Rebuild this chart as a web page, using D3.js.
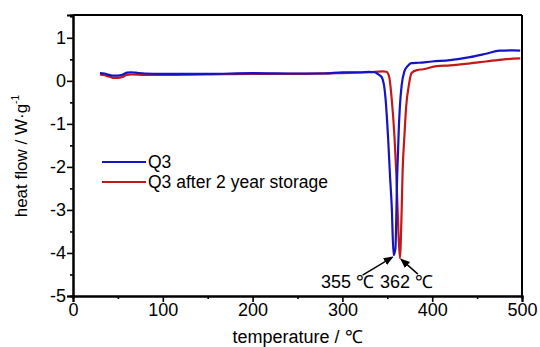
<!DOCTYPE html>
<html>
<head>
<meta charset="utf-8">
<script src="https://cdn.jsdelivr.net/npm/d3@7"></script>
<style>
  body { margin: 0; background: #fff; }
  text { font-family: "Liberation Sans", Arial, sans-serif; fill: #000; }
</style>
</head>
<body>
<div id="chart"></div>
<script>
// DSC curves: [temperature, heat flow]
const q3 = [
  [30, 0.18], [35, 0.17], [40, 0.14], [45, 0.12], [50, 0.12], [55, 0.14], [60, 0.19],
  [65, 0.20], [70, 0.19], [80, 0.17], [100, 0.16], [150, 0.16], [200, 0.18], [250, 0.17],
  [280, 0.17], [300, 0.20], [320, 0.20], [330, 0.21], [336, 0.20], [340, 0.15], [344, 0.08],
  [348, -0.40], [351, -1.37], [353, -2.20], [355, -2.95], [357, -4.05], [359, -3.90],
  [361, -2.20], [363, -1.00], [364, -0.60], [366, -0.10], [369, 0.22], [373, 0.35],
  [377, 0.41], [385, 0.42], [400, 0.45], [420, 0.48], [442, 0.55], [460, 0.63],
  [475, 0.70], [490, 0.71], [498, 0.70]
];
const q3Stored = [
  [30, 0.15], [35, 0.13], [40, 0.10], [45, 0.07], [50, 0.07], [55, 0.09], [60, 0.14],
  [65, 0.15], [80, 0.14], [100, 0.14], [150, 0.15], [200, 0.16], [250, 0.16], [300, 0.18],
  [330, 0.20], [345, 0.22], [349, 0.21], [352, 0.10], [355, -0.44], [358, -1.30],
  [360, -2.14], [362, -3.30], [364, -4.12], [366, -3.00], [367, -2.14], [369, -1.30],
  [371, -0.60], [374, -0.10], [377, 0.18], [383, 0.25], [390, 0.27], [405, 0.34],
  [420, 0.36], [440, 0.40], [460, 0.45], [480, 0.50], [498, 0.52]
];
const seriesNames = ["Q3", "Q3 after 2 year storage"];
const seriesColors = ["#1414c4", "#c41818"];
const xTicks = [0, 100, 200, 300, 400, 500];
const yTicks = [-5, -4, -3, -2, -1, 0, 1];
const peaks = [{ t: 357, v: -4.05, label: "355 ℃" }, { t: 364, v: -4.12, label: "362 ℃" }];

const W = 540, H = 347;
const margin = { top: 15, right: 18, bottom: 51, left: 73 };

const svg = d3.select("#chart").append("svg")
  .attr("width", W).attr("height", H);

const x = d3.scaleLinear().domain([0, 500]).range([margin.left, W - margin.right]);
const y = d3.scaleLinear().domain([-5, 1.53]).range([H - margin.bottom, margin.top]);

// curves, red drawn first so blue sits on top
const line = d3.line().x(d => x(d[0])).y(d => y(d[1])).curve(d3.curveMonotoneX);
[[q3Stored, seriesColors[1]], [q3, seriesColors[0]]].forEach(([s, c]) => {
  svg.append("path")
    .datum(s)
    .attr("fill", "none")
    .attr("stroke", c)
    .attr("stroke-width", 2.2)
    .attr("d", line);
});

// frame top / right
svg.append("line").attr("x1", x(0)).attr("x2", x(500)).attr("y1", y.range()[1]).attr("y2", y.range()[1])
  .attr("stroke", "#000").attr("stroke-width", 2);
svg.append("line").attr("x1", x(500)).attr("x2", x(500)).attr("y1", y.range()[0]).attr("y2", y.range()[1])
  .attr("stroke", "#000").attr("stroke-width", 2);

// x axis
const gx = svg.append("g").attr("transform", `translate(0,${y(-5)})`);
gx.call(d3.axisBottom(x).tickValues(d3.range(50, 500, 100)).tickSize(3).tickFormat(""));
gx.call(g => g.append("g").call(d3.axisBottom(x).tickValues(xTicks).tickSize(6).tickPadding(1)));
gx.selectAll(".domain").attr("stroke-width", 2);
gx.selectAll(".tick line").attr("stroke-width", 1.6);
gx.selectAll("text").attr("font-size", 18);

// y axis
const gy = svg.append("g").attr("transform", `translate(${x(0)},0)`);
gy.call(d3.axisLeft(y).tickValues(d3.range(-4.5, 1.6, 1)).tickSize(3).tickFormat(""));
gy.call(g => g.append("g").call(d3.axisLeft(y).tickValues(yTicks).tickSize(6).tickPadding(1)
  .tickFormat(d => d < 0 ? "-" + Math.abs(d) : d)));
gy.selectAll(".domain").attr("stroke-width", 2);
gy.selectAll(".tick line").attr("stroke-width", 1.6);
gy.selectAll("text").attr("font-size", 18);

// axis titles
svg.append("text").attr("x", x(250)).attr("y", 343).attr("text-anchor", "middle")
  .attr("font-size", 18).text("temperature / ℃");
const yt = svg.append("text").attr("transform", `translate(27,${y(-1.75)}) rotate(-90)`)
  .attr("text-anchor", "middle").attr("font-size", 17);
yt.append("tspan").text("heat flow / W·g");
yt.append("tspan").attr("font-size", 10).attr("dy", -8).text("-1");

// legend
seriesNames.forEach((n, i) => {
  const ly = 162 + i * 20;
  svg.append("line").attr("x1", 102).attr("x2", 146).attr("y1", ly).attr("y2", ly)
    .attr("stroke", seriesColors[i]).attr("stroke-width", 2);
  svg.append("text").attr("x", 148).attr("y", ly + 6).attr("font-size", 17.5).text(n);
});

// peak annotations
svg.append("defs").append("marker")
  .attr("id", "arr").attr("viewBox", "0 0 10 10").attr("refX", 9).attr("refY", 5)
  .attr("markerWidth", 7).attr("markerHeight", 7).attr("orient", "auto")
  .append("path").attr("d", "M0,1 L10,5 L0,9 Z").attr("fill", "#000");
const p0 = peaks[0], p1 = peaks[1];
svg.append("line").attr("x1", x(p0.t) - 31).attr("y1", y(p0.v) + 20)
  .attr("x2", x(p0.t) - 1).attr("y2", y(p0.v) + 2)
  .attr("stroke", "#000").attr("stroke-width", 1.4).attr("marker-end", "url(#arr)");
svg.append("line").attr("x1", x(p1.t) + 18).attr("y1", y(p1.v) + 16)
  .attr("x2", x(p1.t) + 1).attr("y2", y(p1.v) + 1)
  .attr("stroke", "#000").attr("stroke-width", 1.4).attr("marker-end", "url(#arr)");
svg.append("text").attr("x", 374).attr("y", 288).attr("text-anchor", "end")
  .attr("font-size", 18).text(p0.label);
svg.append("text").attr("x", 380).attr("y", 288)
  .attr("font-size", 18).text(p1.label);
</script>
</body>
</html>
